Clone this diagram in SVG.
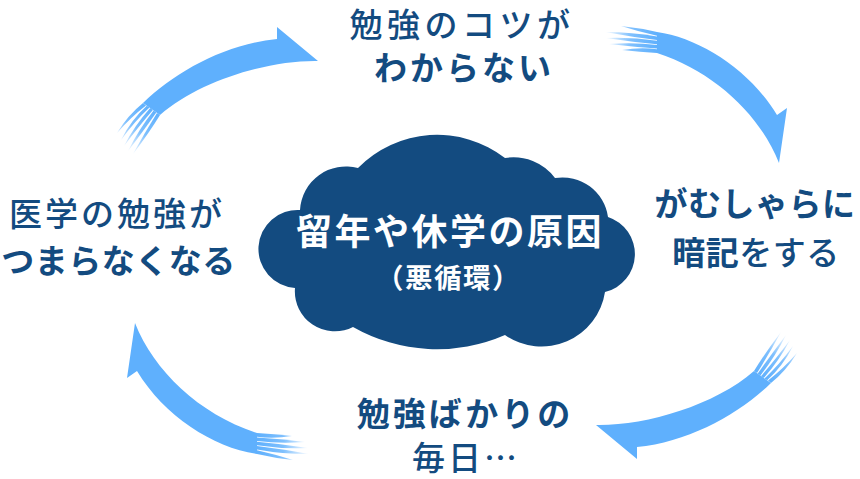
<svg xmlns="http://www.w3.org/2000/svg" xmlns:xlink="http://www.w3.org/1999/xlink" width="860" height="479" viewBox="0 0 860 479">
  <style>
    .lbl { font-family: "Noto Sans CJK JP", "Noto Sans", sans-serif; font-size: 33px; fill: #134b80; text-anchor: middle; }
    .b { font-weight: 700; }
    .m { font-weight: 500; }
    .arrow { fill: #5fb0fd; }
    .cloud { fill: #134b80; }
    .ctext { font-family: "Noto Sans CJK JP", "Noto Sans", sans-serif; font-weight: 700; fill: #ffffff; text-anchor: middle; }
  </style>
  <defs>
    <linearGradient id="fadeA" gradientUnits="userSpaceOnUse" x1="152" y1="108" x2="122" y2="150">
      <stop offset="0" stop-color="#5fb0fd" stop-opacity="1"/>
      <stop offset="0.5" stop-color="#5fb0fd" stop-opacity="0.8"/>
      <stop offset="1" stop-color="#5fb0fd" stop-opacity="0"/>
    </linearGradient>
    <linearGradient id="fadeB" gradientUnits="userSpaceOnUse" x1="657" y1="42" x2="604" y2="40">
      <stop offset="0" stop-color="#5fb0fd" stop-opacity="1"/>
      <stop offset="0.5" stop-color="#5fb0fd" stop-opacity="0.8"/>
      <stop offset="1" stop-color="#5fb0fd" stop-opacity="0"/>
    </linearGradient>
    <g id="arrowA">
      <path class="arrow" d="M143,103 C175,72 225,44 277,39 L277,27 L318,61 C270,60 200,80 160,115 Z"/>
      <g fill="url(#fadeA)">
        <path d="M143,103 Q128,115 117,133 Q131,117 146,105.5 Z"/>
        <path d="M146.8,105.8 Q131,120 121,140 Q135,121 149.5,107.6 Z"/>
        <path d="M150.2,108.1 Q135,125 124,146 Q139,126 152.9,110 Z"/>
        <path d="M153.6,110.5 Q139,129 128,151 Q144,130 156.3,112.4 Z"/>
        <path d="M157,112.9 Q145,132 133,154 Q149,133 160,115 Z"/>
      </g>
    </g>
    <g id="arrowB">
      <path class="arrow" d="M657,32 C700,38 750,70 777,115 L787,108 L779,163 C760,115 715,72 657,53 Z"/>
      <g fill="url(#fadeB)">
        <path d="M657,32 Q640,28 621,26 Q640,32 657,35.8 Z"/>
        <path d="M657,36.6 Q632,32 605,32 Q632,37 657,40 Z"/>
        <path d="M657,40.8 Q632,37 606,38 Q632,42 657,44.2 Z"/>
        <path d="M657,45 Q634,42 609,44 Q634,47 657,48.4 Z"/>
        <path d="M657,49.2 Q640,47 622,50 Q640,52 657,53 Z"/>
      </g>
    </g>
  </defs>

  <g id="connectors">
    <use xlink:href="#arrowA" href="#arrowA"/>
    <use xlink:href="#arrowB" href="#arrowB"/>
    <use xlink:href="#arrowA" href="#arrowA" transform="rotate(180 457 243)"/>
    <use xlink:href="#arrowB" href="#arrowB" transform="rotate(180 457 243)"/>
  </g>

  <g id="center">
    <path class="cloud" d="M300,210 A46,46 0 0 1 358,168 A111,111 0 0 1 505,158 A52,52 0 0 1 555,178 A46,46 0 0 1 608,217 A39,39 0 0 1 605,292 A64,64 0 0 1 505,335 A170,170 0 0 1 353,327 A40,40 0 0 1 295,288 A39,39 0 0 1 300,210 Z"/>
    <text class="ctext" x="450" y="245" font-size="36" letter-spacing="2.5">留年や休学の原因</text>
    <text class="ctext" x="448.5" y="288" font-size="27.5" letter-spacing="1.5">（悪循環）</text>
  </g>

  <g id="top">
    <text class="lbl m" x="462" y="36.5" font-size="31" letter-spacing="4.5">勉強のコツが</text>
    <text class="lbl b" x="464" y="80" letter-spacing="3">わからない</text>
  </g>

  <g id="right">
    <text class="lbl b" x="755" y="216" letter-spacing="0.5">がむしゃらに</text>
    <text class="lbl m" x="756" y="265" letter-spacing="0.5"><tspan class="b">暗記</tspan>をする</text>
  </g>

  <g id="bottom">
    <text class="lbl b" x="465" y="426" letter-spacing="3">勉強ばかりの</text>
    <text class="lbl m" x="466" y="470" letter-spacing="3">毎日…</text>
  </g>

  <g id="left">
    <text class="lbl m" x="117" y="226" letter-spacing="3">医学の勉強が</text>
    <text class="lbl b" x="118.5" y="273" letter-spacing="0.5">つまらなくなる</text>
  </g>
</svg>
